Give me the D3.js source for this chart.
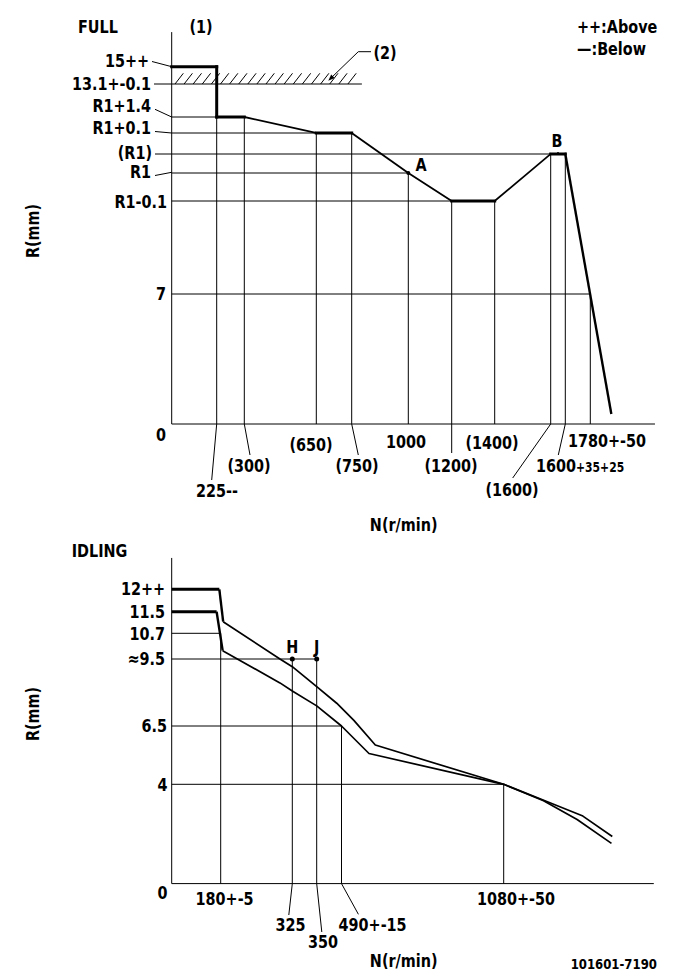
<!DOCTYPE html>
<html>
<head>
<meta charset="utf-8">
<script src="https://cdn.jsdelivr.net/npm/d3@7"></script>
<style>
  html, body { margin: 0; padding: 0; background: #fff; }
  svg { display: block; }
  text { font-family: "Liberation Sans Narrow", "DejaVu Sans Condensed", "Arial Narrow", sans-serif; font-weight: bold; fill: #000; }
</style>
</head>
<body>
<svg id="chart" width="681" height="979"></svg>
<script>
// ---------------- DATA ----------------
// FULL chart
const fullXTicks  = [225, 300, 650, 750, 1000, 1200, 1400, 1600, 1630, 1780];
const fullXLabels = ["225--", "(300)", "(650)", "(750)", "1000", "(1200)", "(1400)", "(1600)", "1600+35+25", "1780+-50"];
const fullXLineTop = [11.4, 11.4, 10.1, 10.1, 10, 9.9, 9.9, 10.05, 10.05, 7];
const fullYLevels = [0, 7, 9.9, 10, 10.05, 10.1, 11.4, 13.1, 15];
const fullYLabels = ["0", "7", "R1-0.1", "R1", "(R1)", "R1+0.1", "R1+1.4", "13.1+-0.1", "15++"];
const fullYLineEnd = [null, 1780, 1200, 1000, 1600, 650, 225, 795, null];
const fullRpm = [0, 225, 225, 300, 650, 750, 1000, 1200, 1400, 1600, 1630, 1905];
const fullR   = [15, 15, 11.4, 11.4, 10.1, 10.1, 10, 9.9, 9.9, 10.05, 10.05, 0.6];
const fullPointA = [1000, 10];
const fullPointB = [1615, 10.05];

// IDLING chart
const idleXTicks  = [180, 325, 350, 490, 1080];
const idleXLabels = ["180+-5", "325", "350", "490+-15", "1080+-50"];
const idleXLineTop = [10.7, 9.5, 9.5, 6.5, 4];
const idleYLevels = [0, 4, 6.5, 9.5, 10.7, 11.5, 12];
const idleYLabels = ["0", "4", "6.5", "≈9.5", "10.7", "11.5", "12++"];
const idleYLineEnd = [null, 1080, 490, 350, 180, null, null];
const idleUpperRpm = [0, 175, 185, 300, 325, 350, 463, 535, 613, 1080, 1239, 1368, 1475];
const idleUpperR   = [12, 12, 11.13, 9.5, 9.155, 8.26, 7.52, 6.75, 5.685, 4.0, 3.30, 2.72, 1.90];
const idleLowerRpm = [0, 165, 184, 300, 325, 350, 490, 590, 1080, 1225, 1347, 1472];
const idleLowerR   = [11.5, 11.5, 9.89, 8.43, 8.07, 7.40, 6.5, 5.32, 4.0, 3.34, 2.58, 1.62];
const idlePointH = [325, 9.5];
const idlePointJ = [350, 9.5];

// ---------------- LAYOUT ----------------
const svg = d3.select("#chart");
const FS = 16;
const SY = 1.12;   // vertical stretch of the narrow drafting font

// schematic (piecewise) scales
const xF = d3.scaleLinear().domain([0, ...fullXTicks])
  .range([171.7, 216.7, 244.3, 316.3, 351.7, 408.3, 451.7, 494.7, 550.7, 565.3, 590.3]);
const yF = d3.scaleLinear().domain(fullYLevels)
  .range([424, 294, 201, 173, 154, 133, 117, 84, 66.7]);
const xI = d3.scaleLinear().domain([0, ...idleXTicks])
  .range([171.7, 220.7, 292.3, 316.7, 341.5, 503.7]);
const yI = d3.scaleLinear().domain(idleYLevels)
  .range([883.6, 784.3, 726, 659, 633.3, 611.7, 589.3]);

function txt(x, y, s, anchor, size) {
  const fs = size || FS;
  const t = svg.append("text")
    .attr("transform", `translate(${x},${y}) scale(1,${SY})`)
    .attr("x", 0).attr("y", fs * 0.36)
    .attr("text-anchor", anchor || "middle").attr("font-size", fs);
  if (s !== null) t.text(s);
  return t;
}
function line(x1, y1, x2, y2, w) {
  return svg.append("line").attr("x1", x1).attr("y1", y1).attr("x2", x2).attr("y2", y2)
    .attr("stroke", "#000").attr("stroke-width", w || 1);
}

// ================= FULL =================
txt(78, 26.5, "FULL", "start");
txt(201, 27, "(1)");
txt(577, 26.5, "++:Above", "start");
txt(577, 48.5, "—:Below", "start");
txt(385, 52.5, "(2)");

// axes
line(xF(0), yF(18.8), xF(0), yF(0));
line(xF(0), yF(0), xF(2168), yF(0));

// vertical reference lines
fullXTicks.forEach((t, i) => {
  const bottom = t === 1200 ? yF(0) + 29 : yF(0);
  line(xF(t), bottom, xF(t), yF(fullXLineTop[i]));
});

// y labels & horizontal reference lines
const fullYLab = {
  "0":        {x: 166, y: 435},
  "7":        {x: 166, y: 294},
  "R1-0.1":   {x: 167, y: 201.5},
  "R1":       {x: 151, y: 172},
  "(R1)":     {x: 152, y: 153},
  "R1+0.1":   {x: 151, y: 128},
  "R1+1.4":   {x: 151, y: 106},
  "13.1+-0.1":{x: 151, y: 83.5},
  "15++":     {x: 149, y: 60.5}
};
fullYLevels.forEach((v, i) => {
  const lab = fullYLabels[i], p = fullYLab[lab];
  txt(p.x, p.y, lab, "end");
  const end = fullYLineEnd[i];
  if (end !== null) {
    let start = xF(0);
    if (lab === "(R1)" || lab === "13.1+-0.1") start = p.x + 3;
    line(start, yF(v), xF(end), yF(v));
  }
});
// small leaders
line(152, 61.5, xF(0), yF(15));
line(155, 109.3, xF(0), yF(11.4));
line(155, 131.5, xF(0), yF(10.1));
line(155, 175.5, xF(0), yF(10) - 0.7);

// hatch above 13.1
for (let hx = 175; hx <= 354; hx += 9.1) {
  line(hx, yF(13.1), hx + 8.3, yF(13.1) - 10.7);
}
// leader for (2) with arrow
line(371, 51.7, 358.3, 51.7);
line(358.3, 51.7, 330, 79);
svg.append("path").attr("d", "M328.3,80.7 L331.2,74.6 L334.6,78 Z").attr("fill", "#000");

// curve
const fullPts = fullRpm.map((r, i) => [xF(r), yF(fullR[i])]);
for (let i = 0; i < fullPts.length - 1; i++) {
  const a = fullPts[i], b = fullPts[i + 1];
  let w = 1.8;
  if (a[1] === b[1] || a[0] === b[0]) w = 3;
  if (i === fullPts.length - 2) w = 2.4;
  svg.append("path").attr("d", d3.line()([a, b])).attr("stroke", "#000")
    .attr("stroke-width", w).attr("fill", "none").attr("stroke-linecap", "square");
}
// points A, B
svg.append("circle").attr("cx", xF(fullPointA[0])).attr("cy", yF(fullPointA[1])).attr("r", 2);
txt(421, 165, "A");
line(xF(fullPointB[0]), yF(fullPointB[1]) - 2, xF(fullPointB[0]), yF(fullPointB[1]) + 1, 1.5);
txt(557, 141, "B");

// x labels
const fullXLab = {
  225:  {dx: 0.3, dy: 67, lx: -5, ly: 56},
  300:  {dx: 4.7, dy: 42, lx: 5.7, ly: 31},
  650:  {dx: -5.3, dy: 21},
  750:  {dx: 5.3, dy: 42, lx: 6.6, ly: 31},
  1000: {dx: -2.3, dy: 18},
  1200: {dx: -0.7, dy: 42},
  1400: {dx: -2.7, dy: 19},
  1600: {dx: -38.7, dy: 66, lx: -38, ly: 54},
  1630: {dx: 13.7, dy: 42, lx: -7, ly: 31},
  1780: {dx: 16.7, dy: 17}
};
fullXTicks.forEach((t, i) => {
  const p = fullXLab[t], x0 = xF(t), y0 = yF(0);
  if (p.lx !== undefined) line(x0, y0, x0 + p.lx, y0 + p.ly);
  const lab = fullXLabels[i];
  if (lab.indexOf("1600+") === 0) {
    const tt = txt(x0 - 29.3, y0 + p.dy, null, "start");
    tt.append("tspan").text("1600");
    tt.append("tspan").attr("font-size", 12).text("+35+25");
  } else {
    txt(x0 + p.dx, y0 + p.dy, lab);
  }
});

txt(403.7, 525, "N(r/min)");
svg.append("text").attr("transform", "translate(39,231) rotate(-90) scale(1,1.05)")
  .attr("text-anchor", "middle").attr("font-size", FS).text("R(mm)");

// ================= IDLING =================
txt(71.7, 551, "IDLING", "start");
line(xI(0), yI(12.7), xI(0), yI(0));
line(xI(0), yI(0), xI(1626), yI(0));

idleXTicks.forEach((t, i) => line(xI(t), yI(0), xI(t), yI(idleXLineTop[i])));

const idleYLab = {
  "0": {x: 167.5, y: 892.8}, "4": {x: 167.5, y: 784.3}, "6.5": {x: 167, y: 726},
  "≈9.5": {x: 165, y: 659}, "10.7": {x: 165, y: 634}, "11.5": {x: 165, y: 611.7}, "12++": {x: 165, y: 589}
};
idleYLevels.forEach((v, i) => {
  const lab = idleYLabels[i], p = idleYLab[lab];
  txt(p.x, p.y, lab, "end");
  const end = idleYLineEnd[i];
  if (end !== null) line(xI(0), yI(v), xI(end), yI(v));
});

function idleCurve(rpm, r) {
  const pts = rpm.map((d, i) => [xI(d), yI(r[i])]);
  svg.append("path").attr("d", d3.line()(pts.slice(0, 2))).attr("stroke", "#000")
    .attr("stroke-width", 3).attr("fill", "none");
  svg.append("path").attr("d", d3.line()(pts.slice(1, 3))).attr("stroke", "#000")
    .attr("stroke-width", 2.4).attr("fill", "none");
  svg.append("path").attr("d", d3.line()(pts.slice(2))).attr("stroke", "#000")
    .attr("stroke-width", 1.7).attr("fill", "none").attr("stroke-linejoin", "round");
}
idleCurve(idleUpperRpm, idleUpperR);
idleCurve(idleLowerRpm, idleLowerR);

[idlePointH, idlePointJ].forEach(p =>
  svg.append("circle").attr("cx", xI(p[0])).attr("cy", yI(p[1])).attr("r", 2.5));
txt(xI(idlePointH[0]), 646.7, "H");
txt(xI(idlePointJ[0]), 646.7, "J");

const idleXLab = {
  180:  {dx: 3.9, dy: 15.4},
  325:  {dx: -1.8, dy: 41.4, lx: -3.5, ly: 31.4},
  350:  {dx: 6.3, dy: 58.4, lx: 5.1, ly: 48.4},
  490:  {dx: 31.1, dy: 41, lx: 16.9, ly: 30.7},
  1080: {dx: 12.3, dy: 15.4}
};
idleXTicks.forEach((t, i) => {
  const p = idleXLab[t], x0 = xI(t), y0 = yI(0);
  if (p.lx !== undefined) line(x0, y0, x0 + p.lx, y0 + p.ly);
  txt(x0 + p.dx, y0 + p.dy, idleXLabels[i]);
});

txt(403.7, 961, "N(r/min)");
svg.append("text").attr("transform", "translate(39,714) rotate(-90) scale(1,1.05)")
  .attr("text-anchor", "middle").attr("font-size", FS).text("R(mm)");
txt(613.8, 963.7, "101601-7190", "middle", 13);
</script>
</body>
</html>
